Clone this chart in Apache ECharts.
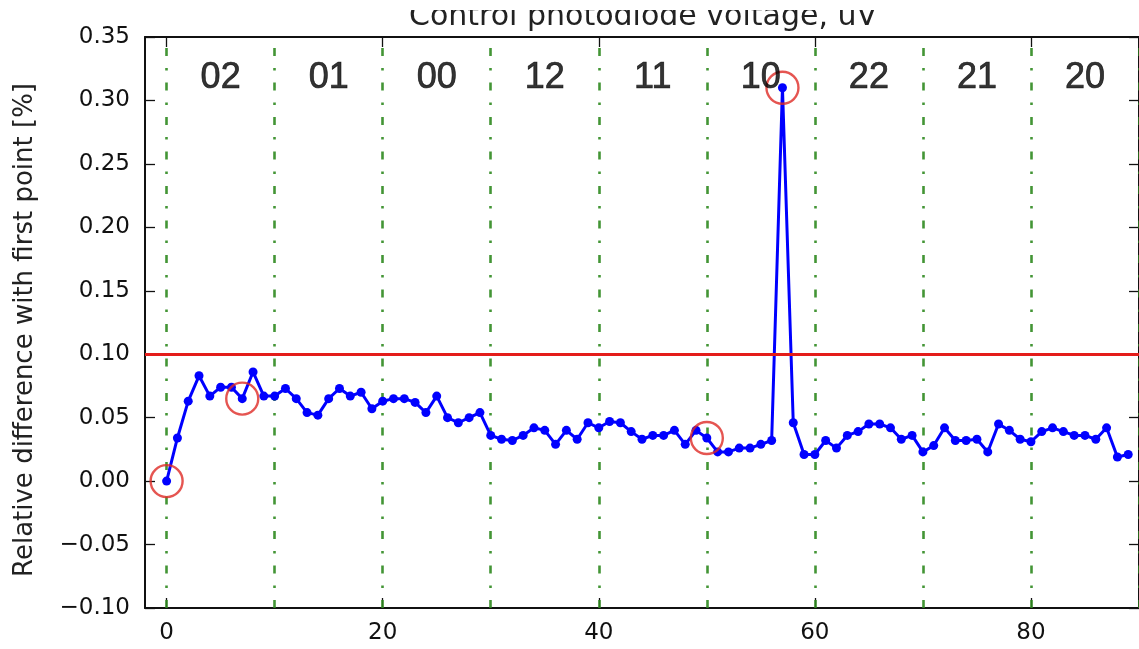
<!DOCTYPE html>
<html>
<head>
<meta charset="utf-8">
<script src="https://cdn.jsdelivr.net/npm/echarts@6/dist/echarts.min.js"></script>
<style>
  html, body { margin: 0; padding: 0; background: #ffffff; }
  #chart { width: 1139px; height: 649px; }
</style>
</head>
<body>
<div id="chart"></div>
<script>
// Relative difference of each measurement with the first one, in percent
const values = [
  0.000, 0.034, 0.063, 0.083, 0.067, 0.074, 0.074, 0.065, 0.086, 0.067,
  0.067, 0.073, 0.065, 0.054, 0.052, 0.065, 0.073, 0.067, 0.070, 0.057,
  0.063, 0.065, 0.065, 0.062, 0.054, 0.067, 0.050, 0.046, 0.050, 0.054,
  0.036, 0.033, 0.032, 0.036, 0.042, 0.040, 0.029, 0.040, 0.033, 0.046,
  0.042, 0.047, 0.046, 0.039, 0.033, 0.036, 0.036, 0.040, 0.029, 0.040,
  0.034, 0.023, 0.023, 0.026, 0.026, 0.029, 0.032, 0.310, 0.046, 0.021,
  0.021, 0.032, 0.026, 0.036, 0.039, 0.045, 0.045, 0.042, 0.033, 0.036,
  0.023, 0.028, 0.042, 0.032, 0.032, 0.033, 0.023, 0.045, 0.040, 0.033,
  0.031, 0.039, 0.042, 0.039, 0.036, 0.036, 0.033, 0.042, 0.019, 0.021
];

// Indices of the measurements that are circled
const flagged = [0, 7, 50, 57];

// Block names and the block boundaries (in measurement index)
const segmentNames = ['02', '01', '00', '12', '11', '10', '22', '21', '20'];
const boundaries = [0, 10, 20, 30, 40, 50, 60, 70, 80, 90];

// Tolerance line
const threshold = 0.10;

// Axis ticks
const xTicks = [0, 20, 40, 60, 80];

const X_MIN = -2, X_MAX = 90;
const Y_MIN = -0.10, Y_MAX = 0.35, Y_STEP = 0.05;
const LABEL_Y = 0.318;

const TICK_FONT = '"DejaVu Sans", sans-serif';
const fmtY = v => {
  const s = (Math.abs(v) < 1e-9 ? 0 : v).toFixed(2);
  return s.replace('-', '\u2212');
};

const chart = echarts.init(document.getElementById('chart'), null, { renderer: 'canvas' });

const axisLineStyle = { show: true, onZero: false, lineStyle: { color: '#111', width: 2 } };
const tickStyle = { show: true, inside: true, length: 10, lineStyle: { color: '#111', width: 1.3 } };

chart.setOption({
  animation: false,
  backgroundColor: '#ffffff',
  grid: { left: 145, right: -6, top: 37, bottom: 41, containLabel: false },
  xAxis: [
    {
      type: 'value', position: 'bottom', min: X_MIN, max: X_MAX,
      axisLine: axisLineStyle,
      axisTick: Object.assign({ customValues: xTicks }, tickStyle),
      axisLabel: {
        customValues: xTicks, margin: 14, color: '#111',
        fontFamily: TICK_FONT, fontSize: 23
      },
      splitLine: { show: false }
    },
    {
      type: 'value', position: 'top', min: X_MIN, max: X_MAX,
      axisLine: axisLineStyle,
      axisTick: Object.assign({ customValues: xTicks }, tickStyle),
      axisLabel: { show: false },
      splitLine: { show: false }
    }
  ],
  yAxis: [
    {
      type: 'value', position: 'left', min: Y_MIN, max: Y_MAX, interval: Y_STEP,
      axisLine: axisLineStyle,
      axisTick: tickStyle,
      axisLabel: {
        margin: 15, color: '#111', fontFamily: TICK_FONT, fontSize: 23,
        formatter: fmtY
      },
      splitLine: { show: false }
    },
    {
      type: 'value', position: 'right', min: Y_MIN, max: Y_MAX, interval: Y_STEP,
      axisLine: axisLineStyle,
      axisTick: tickStyle,
      axisLabel: { show: false },
      splitLine: { show: false }
    }
  ],
  series: [
    {
      // block boundaries, drawn bottom to top
      type: 'lines',
      coordinateSystem: 'cartesian2d',
      xAxisIndex: 0, yAxisIndex: 0,
      silent: true,
      z: 1,
      lineStyle: { color: '#2f8a1f', width: 2.6, type: [8, 12, 2.5, 12], opacity: 0.9 },
      data: boundaries.map(b => ({ coords: [[b, Y_MIN], [b, Y_MAX]] }))
    },
    {
      type: 'line',
      name: 'Control photodiode voltage',
      xAxisIndex: 0, yAxisIndex: 0,
      data: values.map((v, i) => [i, v]),
      symbol: 'circle',
      symbolSize: 9,
      showSymbol: true,
      itemStyle: { color: '#0000ff' },
      lineStyle: { color: '#0000ff', width: 3 },
      z: 3
    },
    {
      // tolerance line
      type: 'lines',
      coordinateSystem: 'cartesian2d',
      xAxisIndex: 0, yAxisIndex: 0,
      silent: true,
      z: 4,
      lineStyle: { color: '#e41d1a', width: 2.8, type: 'solid', opacity: 1 },
      data: [{ coords: [[X_MIN, threshold], [X_MAX, threshold]] }]
    },
    {
      type: 'scatter',
      xAxisIndex: 0, yAxisIndex: 0,
      data: flagged.map(i => [i, values[i]]),
      symbol: 'circle',
      symbolSize: 32,
      itemStyle: { color: 'rgba(0,0,0,0)', borderColor: '#df2a26', borderWidth: 2.4 },
      z: 5
    },
    {
      // block names
      type: 'scatter',
      xAxisIndex: 0, yAxisIndex: 0,
      silent: true,
      data: segmentNames.map((n, i) => [boundaries[i] + 5, LABEL_Y]),
      symbolSize: 1,
      itemStyle: { color: 'rgba(0,0,0,0)' },
      label: {
        show: true, position: 'inside',
        formatter: p => segmentNames[p.dataIndex],
        color: '#000', fontFamily: '"Liberation Sans", Arial, sans-serif', fontSize: 36,
        textBorderColor: '#000', textBorderWidth: 0.7
      },
      z: 6
    }
  ],
  graphic: [
    {
      type: 'text', x: 643, y: 17, silent: true, z: 10,
      style: {
        text: 'Control photodiode voltage, uV',
        font: '30px "DejaVu Sans", sans-serif',
        fill: '#222', align: 'center', verticalAlign: 'middle'
      }
    },
    {
      // page edge above the title
      type: 'rect', silent: true, z: 11,
      shape: { x: 0, y: 0, width: 1139, height: 10 },
      style: { fill: '#ffffff' }
    },
    {
      type: 'text', x: 25, y: 330, rotation: Math.PI / 2, silent: true,
      style: {
        text: 'Relative difference with first point [%]',
        font: '26px "DejaVu Sans", sans-serif',
        fill: '#222', align: 'center', verticalAlign: 'middle'
      }
    }
  ]
});
</script>
</body>
</html>
